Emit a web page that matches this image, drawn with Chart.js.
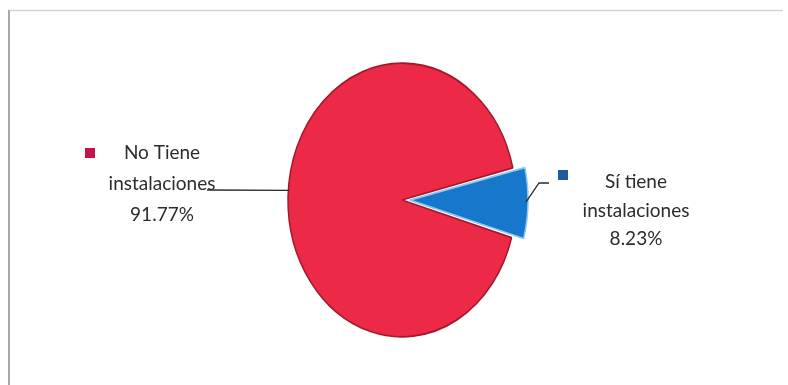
<!DOCTYPE html>
<html>
<head>
<meta charset="utf-8">
<script src="https://cdn.jsdelivr.net/npm/chart.js@4"></script>
<style>
  html, body { margin: 0; padding: 0; background: #fff; }
  #wrap { position: relative; width: 788px; height: 385px; }
</style>
</head>
<body>
<div id="wrap"><canvas id="c" width="788" height="385"></canvas></div>
<script>
// ---- data ----
const categories = ['No Tiene instalaciones', 'Sí tiene instalaciones'];
const labelLines = [['No Tiene', 'instalaciones', '91.77%'], ['Sí tiene', 'instalaciones', '8.23%']];
const values = [91.77, 8.23];

// ---- styles ----
const fillColors = ['#ec2a47', '#1777cb'];
const borderColors = ['#a3182c', '#8cc8ef'];
const markerColors = ['#c4154a', '#1b5d9f'];
const yStretch = 1.2;
const fontFamily = 'Lato, "Open Sans", sans-serif';

const framePlugin = {
  id: 'frame',
  beforeDraw(chart) {
    const ctx = chart.ctx;
    ctx.save();
    ctx.strokeStyle = '#d4d4d4';
    ctx.lineWidth = 1.5;
    ctx.beginPath();
    ctx.moveTo(8, 10.5); ctx.lineTo(783, 10.5);
    ctx.stroke();
    ctx.strokeStyle = '#a8a8a8';
    ctx.lineWidth = 2;
    ctx.beginPath();
    ctx.moveTo(9, 10); ctx.lineTo(9, 385);
    ctx.stroke();
    ctx.restore();
  }
};

const ellipsePlugin = {
  id: 'ellipse',
  beforeDatasetsDraw(chart) {
    const a = chart.getDatasetMeta(0).data[0];
    const ctx = chart.ctx;
    ctx.save();
    ctx.translate(a.x, a.y);
    ctx.scale(1, yStretch);
    ctx.translate(-a.x, -a.y);
  },
  afterDatasetsDraw(chart) {
    chart.ctx.restore();
  }
};

const labelPlugin = {
  id: 'pieLabels',
  afterDraw(chart) {
    const ctx = chart.ctx;
    const meta = chart.getDatasetMeta(0);
    const red = meta.data[0];
    const blue = meta.data[1];
    ctx.save();
    ctx.strokeStyle = '#2a2a2a';
    ctx.lineWidth = 1.3;
    // left leader: from ellipse edge slightly above horizontal
    const angL = Math.PI + 0.07;
    const exL = red.x + Math.cos(angL) * red.outerRadius;
    const eyL = red.y + Math.sin(angL) * red.outerRadius * yStretch;
    ctx.beginPath();
    ctx.moveTo(207, 190);
    ctx.lineTo(exL + 1, eyL);
    ctx.stroke();
    // right leader: from blue slice outer edge
    const midB = (blue.startAngle + blue.endAngle) / 2;
    const off = (blue.options.offset || 0) / 4;
    const exR = blue.x + Math.cos(midB) * (blue.outerRadius + off);
    const eyR = blue.y + Math.sin(midB) * (blue.outerRadius + off) * yStretch;
    ctx.beginPath();
    ctx.moveTo(exR + 2, eyR - 1);
    ctx.lineTo(539, 183);
    ctx.lineTo(549, 183);
    ctx.stroke();

    // markers
    ctx.fillStyle = markerColors[0];
    ctx.fillRect(85, 148, 10, 10);
    ctx.fillStyle = markerColors[1];
    ctx.fillRect(558, 170, 10, 10);

    // texts
    ctx.fillStyle = '#2c2c2c';
    ctx.font = '19px ' + fontFamily;
    ctx.textAlign = 'center';
    ctx.textBaseline = 'middle';
    const leftY = [153, 184, 215];
    labelLines[0].forEach((t, i) => ctx.fillText(t, 162, leftY[i]));
    const rightY = [182, 211, 239];
    labelLines[1].forEach((t, i) => ctx.fillText(t, 636, rightY[i]));
    ctx.restore();
  }
};

new Chart(document.getElementById('c'), {
  type: 'pie',
  data: {
    labels: categories,
    datasets: [{
      data: values,
      backgroundColor: fillColors,
      borderColor: borderColors,
      borderWidth: 1.5,
      offset: [0, 32]
    }]
  },
  options: {
    responsive: false,
    animation: false,
    events: [],
    rotation: 106,
    radius: 114,
    layout: { padding: { left: 16, right: 0, top: 15, bottom: 0 } },
    plugins: { legend: { display: false }, tooltip: { enabled: false } }
  },
  plugins: [framePlugin, ellipsePlugin, labelPlugin]
});
</script>
</body>
</html>
